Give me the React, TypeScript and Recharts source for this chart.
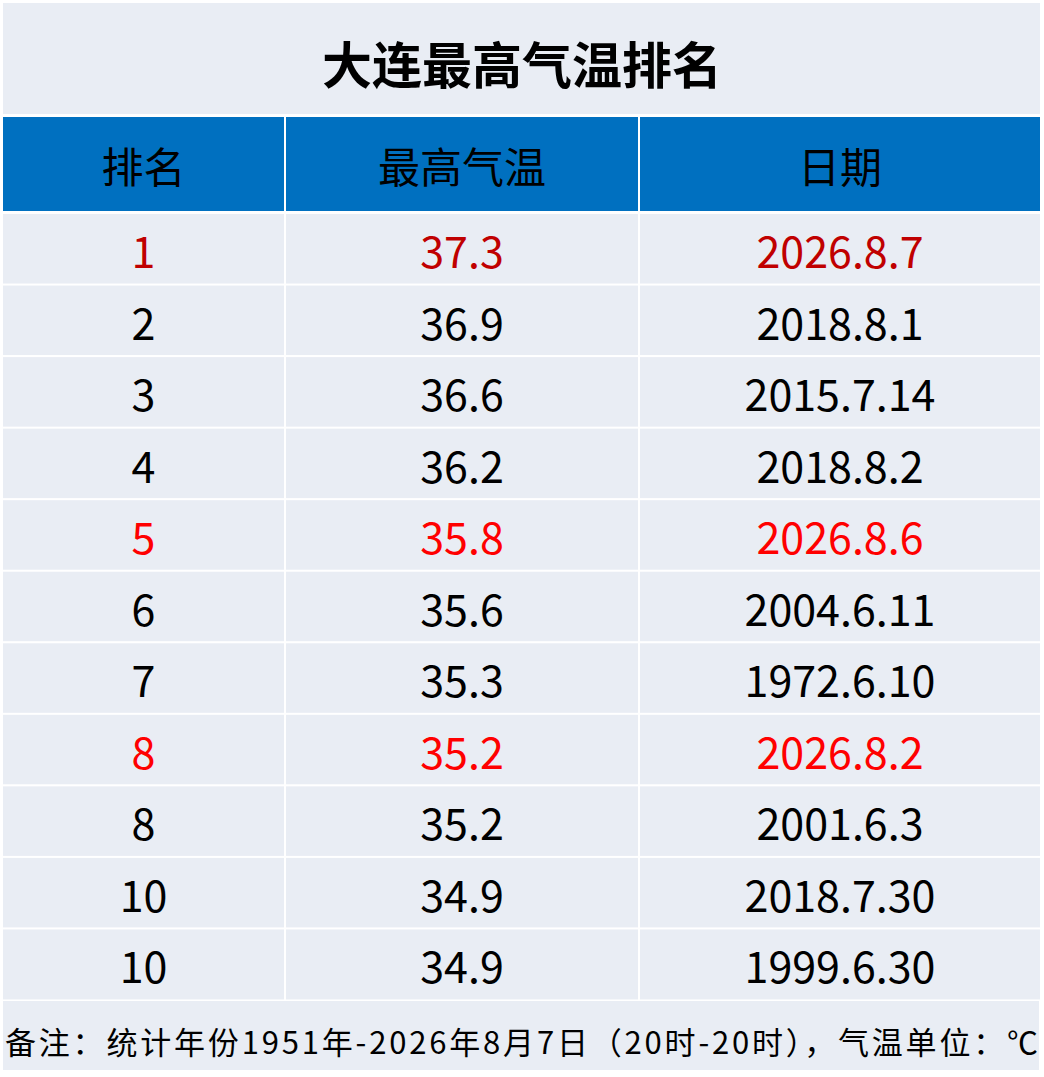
import { BarChart, Bar, XAxis, YAxis } from "recharts";

const TITLE = "大连最高气温排名";
const HEADERS = ["排名", "最高气温", "日期"];
const RANKS = ["1", "2", "3", "4", "5", "6", "7", "8", "8", "10", "10"];
const MAX_TEMPS = [37.3, 36.9, 36.6, 36.2, 35.8, 35.6, 35.3, 35.2, 35.2, 34.9, 34.9];
const DATES = [
  "2026.8.7", "2018.8.1", "2015.7.14", "2018.8.2", "2026.8.6", "2004.6.11",
  "1972.6.10", "2026.8.2", "2001.6.3", "2018.7.30", "1999.6.30",
];
// "top" = record, "new" = this year's entries
const HIGHLIGHT = ["top", "", "", "", "new", "", "", "new", "", "", ""];
const NOTE = "备注：统计年份1951年-2026年8月7日（20时-20时），气温单位：℃";

// layout
const COL_WIDTHS = [283, 354, 402];
const W = 1044;
const H = 1077;
const FONT = "'Noto Sans CJK SC', 'Noto Sans', sans-serif";
const CELL_BG = "#e9edf4";
const HEAD_BG = "#0070c0";
const TONE: Record<string, string> = { top: "#c00000", new: "#ff0000", "": "#000000" };

const headerData = [
  { id: "h", c0: HEADERS[0], c1: HEADERS[1], c2: HEADERS[2], tone: "", w0: COL_WIDTHS[0], w1: COL_WIDTHS[1], w2: COL_WIDTHS[2] },
];

const bodyData = RANKS.map((rank, i) => ({
  id: "r" + i,
  c0: rank,
  c1: MAX_TEMPS[i].toFixed(1),
  c2: DATES[i],
  tone: HIGHLIGHT[i],
  w0: COL_WIDTHS[0],
  w1: COL_WIDTHS[1],
  w2: COL_WIDTHS[2],
}));

function cellShape(field: string, fill: string, fontSize: number) {
  return (props: any) => {
    const { x, y, width, height, payload } = props;
    return (
      <g>
        <rect x={x} y={y} width={width} height={height} fill={fill} stroke="#ffffff" strokeWidth={2} />
        <text
          x={x + width / 2}
          y={y + height / 2}
          textAnchor="middle"
          dominantBaseline="central"
          fontFamily={FONT}
          fontSize={fontSize}
          fill={TONE[payload.tone] || "#000"}
        >
          {payload[field]}
        </text>
      </g>
    );
  };
}

function TableChart({ data, height, fill, fontSize }: { data: any[]; height: number; fill: string; fontSize: number }) {
  return (
    <BarChart
      width={W}
      height={height}
      data={data}
      layout="vertical"
      margin={{ top: 1, right: 3, bottom: 1, left: 2 }}
      barCategoryGap={0}
      barGap={0}
    >
      <XAxis type="number" domain={[0, COL_WIDTHS[0] + COL_WIDTHS[1] + COL_WIDTHS[2]]} hide />
      <YAxis type="category" dataKey="id" hide />
      {["w0", "w1", "w2"].map((k, i) => (
        <Bar
          key={k}
          dataKey={k}
          stackId="row"
          isAnimationActive={false}
          shape={cellShape("c" + i, fill, fontSize)}
        />
      ))}
    </BarChart>
  );
}

export default function App() {
  return (
    <div style={{ position: "absolute", top: 0, left: 0, width: W, height: H, background: "#ffffff" }}>
      <svg width={W} height={H} style={{ position: "absolute", top: 0, left: 0 }}>
        <rect x={3} y={3} width={1037} height={111} fill={CELL_BG} />
        <text
          x={W / 2}
          y={62}
          textAnchor="middle"
          dominantBaseline="central"
          fontFamily={FONT}
          fontWeight={700}
          fontSize={50}
          fill="#000"
        >
          {TITLE}
        </text>
        <rect x={3} y={1001} width={1036} height={69} fill={CELL_BG} />
        <text
          x={5}
          y={1040}
          dominantBaseline="central"
          fontFamily={FONT}
          fontSize={31}
          fill="#000"
          textLength={1033}
          lengthAdjust="spacing"
        >
          {NOTE}
        </text>
      </svg>
      <div style={{ position: "absolute", top: 115, left: 0 }}>
        <TableChart data={headerData} height={98} fill={HEAD_BG} fontSize={42} />
      </div>
      <div style={{ position: "absolute", top: 212, left: 0 }}>
        <TableChart data={bodyData} height={789} fill={CELL_BG} fontSize={43} />
      </div>
    </div>
  );
}
